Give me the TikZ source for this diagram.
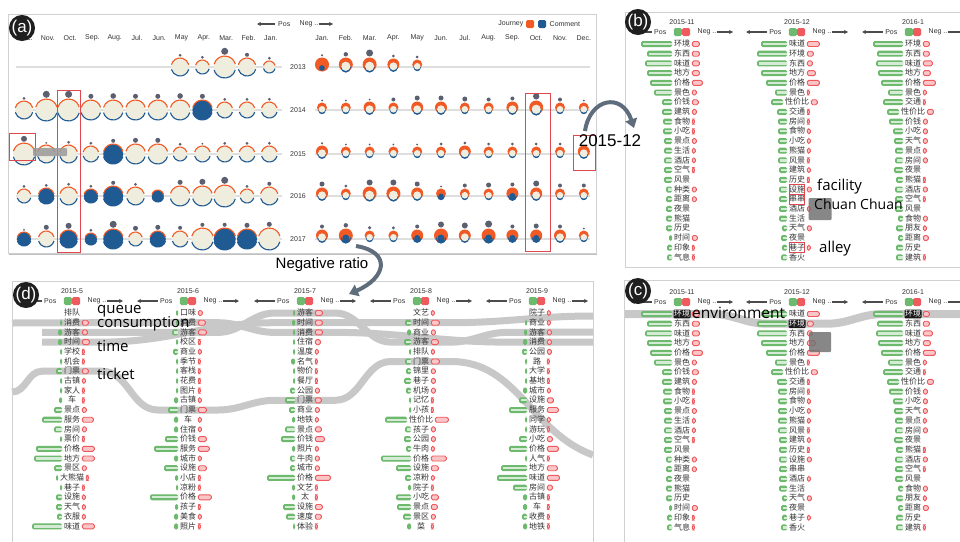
\documentclass[tikz,border=0pt]{standalone}
\usepackage{fontspec}
\setmainfont{Liberation Sans}
\newfontfamily\cjk{Noto Sans CJK SC}
\newfontfamily\annotfont{Open Sans}
\usetikzlibrary{arrows.meta,positioning,calc,backgrounds}

\definecolor{jorange}{HTML}{F15A24}
\definecolor{cblue}{HTML}{1F5A93}
\definecolor{cream}{HTML}{EEEDDE}
\definecolor{dotgrey}{HTML}{5B6070}
\definecolor{posgreen}{HTML}{6DB96D}
\definecolor{negred}{HTML}{EE5A5E}
\definecolor{bandgrey}{HTML}{C8C8C8}
\definecolor{framegrey}{HTML}{D0D0D0}
\definecolor{hlred}{HTML}{E0474F}
\definecolor{arrowgrey}{HTML}{5E6C7C}

% word lists: word/pos length/neg length
\def\bwA{环境/31/7, 东西/25/7, 味道/27/7, 地方/25/7, 价格/22/10, 景色/18/4, 价钱/10/6, 建筑/10/4,
  食物/9/2, 小吃/9/2, 景点/8/4, 生活/8/3, 酒店/8/3, 空气/8/2, 风景/8/0, 种类/6/4, 距离/6/4,
  夜景/6/0, 熊猫/6/0, 历史/6/0, 时间/3/5, 印象/5/2, 气息/5/2}
\def\bwB{味道/26/12, 环境/30/6, 东西/30/5, 地方/26/8, 价格/21/12, 景色/12/2, 性价比/12/6, 交通/10/2,
  房间/9/2, 食物/9/3, 小吃/9/3, 熊猫/9/3, 风景/9/2, 建筑/8/3, 历史/8/2, 设施/8/4, 串串/8/0,
  酒店/8/3, 生活/8/0, 天气/5/4, 夜景/6/0, 巷子/5/3, 香火/6/0}
\def\bwC{环境/30/6, 东西/26/6, 味道/27/9, 地方/25/7, 价格/22/12, 景色/15/3, 交通/20/2, 性价比/12/6,
  价钱/14/4, 小吃/10/4, 天气/9/4, 景点/8/3, 房间/8/4, 夜景/9/0, 熊猫/7/2, 酒店/8/4, 空气/8/2,
  风景/8/0, 食物/5/4, 朋友/7/3, 距离/5/5, 历史/7/0, 建筑/7/2}
\def\dwA{排队/0/0, 消费/2/6, 游客/4/5, 时间/4/7, 学校/2/2, 机会/2/2, 门票/6/6, 古镇/2/3, 家人/2/2,
  车/3/2, 景点/8/4, 服务/20/11, 房间/8/4, 票价/2/2, 价格/26/12, 地方/28/12, 景区/8/4, 大熊猫/2/2,
  巷子/2/2, 设施/6/3, 天气/6/3, 衣服/5/3, 味道/30/12}
\def\dwB{口味/2/4, 消费/2/7, 游客/6/8, 校区/2/2, 商业/5/3, 季节/2/2, 客栈/2/2, 花费/2/2, 图片/2/2,
  古镇/4/3, 门票/10/8, 车/4/3, 住宿/4/3, 价钱/13/8, 服务/24/11, 城市/4/3, 设施/14/8, 小店/3/2,
  凉粉/2/2, 价格/28/13, 孩子/3/2, 美食/4/3, 照片/4/2}
\def\dwC{游客/2/7, 时间/3/7, 消费/2/7, 住宿/2/5, 温度/2/3, 名气/4/2, 物价/2/2, 餐厅/2/2, 公园/5/4,
  门票/10/6, 商业/6/4, 地铁/3/3, 景点/10/6, 价钱/14/9, 照片/3/3, 牛肉/5/4, 城市/5/4, 价格/28/15,
  文艺/3/2, 太/3/2, 设施/12/7, 速度/9/6, 体验/2/2}
\def\dwD{文艺/0/3, 时间/6/8, 商业/4/4, 游客/7/7, 排队/2/3, 门票/6/8, 锦里/5/4, 巷子/7/4, 机场/5/4,
  记忆/2/2, 小孩/2/2, 性价比/22/13, 孩子/6/4, 公园/7/4, 牛肉/5/3, 价格/30/15, 设施/15/7, 凉粉/6/3,
  院子/3/2, 小吃/15/7, 景点/14/6, 景区/8/4, 菜/4/2}
\def\dwE{院子/0/3, 商业/2/3, 游客/3/4, 消费/4/4, 公园/5/4, 路/2/2, 大学/2/2, 基地/2/2, 城市/4/3,
  设施/8/6, 服务/18/11, 同学/2/3, 游玩/2/2, 小吃/8/5, 价格/18/11, 人气/2/2, 地方/26/10, 味道/30/12,
  房间/14/5, 古镇/4/2, 车/4/2, 收费/5/2, 地铁/4/2}

% month glyph, left half: x, y, radius, type (n/b), dot radius
\newcommand{\lglyph}[5]{%
  \if#4b\fill[cblue] (#1,#2) circle (#3);\else\fill[cream] (#1,#2) circle (#3);\fi
  \draw[jorange, line width=1.1pt] (#1,#2) ++(195:#3) arc[start angle=195, end angle=345, radius=#3];
  \draw[cblue, line width=1.1pt] (#1,#2) ++(15:#3) arc[start angle=15, end angle=165, radius=#3];
  \fill[dotgrey] (#1,#2-#3-#5-1.2) circle (#5);
}
% month glyph, right half: x, y, radius, type (o/m/f), dot radius
\newcommand{\rglyph}[5]{%
  \fill[jorange] (#1,#2-1.5) circle (#3);
  \if#4f\fill[cblue] (#1,#2+2) circle (0.4*#3);\else
  \fill[cblue] (#1,#2+1.6) circle (0.72*#3);
  \if#4m\fill[jorange] (#1,#2-1) circle (0.7*#3);\fill[cblue] (#1,#2+1) circle (0.5*#3);
  \else\fill[cream] (#1,#2+0.3) circle (0.66*#3);\fi\fi
  \fill[dotgrey] (#1,#2-#3-#5-2.5) circle (#5);
}
% sentiment bars beside a word node
\newcommand{\sentbars}[3]{%
  \ifdim#2pt>0pt
    \fill[posgreen, rounded corners=1.5pt] ([xshift=-1.2pt]#1.west) ++(0,-3) rectangle ++(-#2,6);
    \ifdim#2pt>4pt
      \fill[posin] ([xshift=-1.2pt]#1.west) ++(0,-1.1) rectangle ++(-#2+1.6,2.2);
    \fi
  \fi
  \ifdim#3pt>0pt
    \draw[negbar] ([xshift=1.6pt]#1.east) ++(0,-2.5) rectangle ++(#3,5);
  \fi
}
% one month column of keywords
\newcommand{\wordcolumn}[5]{%
  \node[hdr] (#1-dt) at (#2,#3-22) {#4};
  \node[sqg] (#1-sg) at (#2-4.2,#3-12) {};
  \node[sqr] (#1-sr) at (#2+4.2,#3-12) {};
  \node[hdr, anchor=east] (#1-pos) at (#2-15,#3-12) {Pos};
  \node[hdr, anchor=west] (#1-neg) at (#2+15,#3-12) {Neg ..};
  \coordinate (#1-pa) at (#2-51,#3-12);
  \coordinate (#1-na) at (#2+51,#3-12);
  \draw[hdrarrow] ([xshift=-2pt]#1-pos.west) -- (#1-pa);
  \draw[hdrarrow] (#1-neg.east) -- (#1-na);
  \edef\curlist{#5}%
  \foreach \w/\g/\r [count=\i] in \curlist {
    \node[word] (#1-\i) at (#2,#3+9.7*\i-9.7) {\w};
    \sentbars{#1-\i}{\g}{\r}
  }
}

\begin{document}
\begin{tikzpicture}[x=1pt, y=-1pt,
    >=Stealth,
    every node/.style={font=\fontsize{7}{8}\selectfont},
    panel/.style={draw=framegrey, line width=0.8pt},
    plabel/.style={circle, fill=black!88, text=white, minimum size=26pt, inner sep=0pt, font=\fontsize{17}{17}\selectfont},
    month/.style={text=black!80},
    yearlbl/.style={text=black!80},
    rowline/.style={draw=black!13, line width=1.5pt},
    word/.style={font=\cjk\fontsize{8}{8}\selectfont, inner sep=0.5pt, minimum width=17pt, text height=6.4pt, text depth=1.2pt, text=black!80},
    hlword/.style={word, fill=black!90, text=white, minimum width=0pt, rounded corners=1pt},
    hdr/.style={inner sep=0.5pt, text=black!80},
    hdrarrow/.style={->, >={Stealth[length=4pt,width=4pt]}, line width=1.1pt, draw=black!70},
    sqg/.style={fill=posgreen, rounded corners=1.5pt, minimum size=8pt, inner sep=0pt},
    sqr/.style={fill=negred, rounded corners=1.5pt, minimum size=8pt, inner sep=0pt},
    posin/.style={fill=white!72!posgreen},
    negbar/.style={draw=negred, fill=negred!35, line width=0.9pt, rounded corners=1.5pt},
    band/.style={draw=bandgrey, line width=8pt},
    hlbox/.style={draw=hlred, line width=0.9pt},
    annot/.style={font=\annotfont\fontsize{15}{15}\selectfont, inner sep=0pt, anchor=west},
    bigarrow/.style={draw=arrowgrey, line width=4pt, -{Triangle[length=9pt,width=12pt]}},
    tooltip/.style={fill=black!55, opacity=0.85, rounded corners=1pt, inner sep=0pt},
]
  \begin{scope}[on background layer]
    \fill[white] (0,0) rectangle (960,541);
  \end{scope}
  \useasboundingbox (0,0) rectangle (960,541);

  % (a) calendar of months
  \draw[panel] (8,14) rectangle (596,253);
  \draw[black!25, line width=1.5pt] (9,254.5) -- (597,254.5);
  \node[hdr, anchor=east] (aPos) at (291,24) {Pos};
  \node[hdr, anchor=west] (aNeg) at (299,24) {Neg ..};
  \coordinate (aPosA) at (257,24);
  \coordinate (aNegA) at (333,24);
  \draw[hdrarrow] ([xshift=-3pt]aPos.west) -- (aPosA);
  \draw[hdrarrow] (aNeg.east) -- (aNegA);
  \node[hdr, anchor=east] (lgJtxt) at (524,24) {Journey};
  \node[sqg, fill=jorange] (lgJ) at (530,24) {};
  \node[sqg, fill=cblue] (lgC) at (542,24) {};
  \node[hdr, anchor=west] (lgCtxt) at (549,24) {Comment};
  \foreach \m [count=\i from 0] in {Dec.,Nov.,Oct.,Sep.,Aug.,Jul.,Jun.,May,Apr.,Mar.,Feb.,Jan.}
    \node[month] (ml\i) at (25.5+22.3*\i,38) {\m};
  \foreach \m [count=\i from 0] in {Jan.,Feb.,Mar.,Apr.,May,Jun.,Jul.,Aug.,Sep.,Oct.,Nov.,Dec.}
    \node[month] (mr\i) at (322+23.8*\i,38) {\m};
  \foreach \yr/\ry in {2013/67,2014/110,2015/154,2016/196,2017/239} {
    \draw[rowline] (16,\ry) -- (282,\ry);
    \draw[rowline] (315,\ry) -- (590,\ry);
    \node[yearlbl] (yr\yr) at (298,\ry) {\yr};
  }
  \foreach \ry/\lst in {
      67/{7/9/n/1.5, 8/7/n/1.5, 9/11/n/3.5, 10/9/n/2, 11/6/n/1.5},
      110/{0/9/n/1.5, 1/11/n/3.5, 2/11/n/3.5, 3/10/n/2.5, 4/10/n/2.8, 5/10/n/2.5, 6/10/n/2.5, 7/10/n/2.8, 8/10/b/2.5, 9/8/n/1.5, 10/8/n/1.5, 11/8/n/1.5},
      154/{0/11/n/3, 1/9/n/1, 2/9/n/1.5, 3/8/n/1.5, 4/10/b/2, 5/10/n/2.5, 6/10/n/2.5, 7/7/n/1.5, 8/8/n/1, 9/8/n/1.5, 10/8/n/1.5, 11/8/n/1.5},
      196/{0/7/n/1.5, 1/8/b/1.5, 2/9/n/1.5, 3/7/b/1.5, 4/10/b/2, 5/9/n/1.5, 6/6/b/0, 7/10/n/2.5, 8/10/n/3, 9/11/n/3.5, 10/7/n/1.5, 11/9/n/2},
      239/{0/7/b/1, 1/8/n/2.5, 2/9/b/3, 3/6/b/1.5, 4/10/b/3.5, 5/7/n/2.5, 6/8/b/2.5, 7/8/n/2, 8/11/n/2, 9/11/b/2, 10/10/b/2.5, 11/11/n/2.5}} {
    \foreach \c/\r/\t/\d in \lst {\lglyph{24+22.3*\c}{\ry}{\r}{\t}{\d}}
  }
  \foreach \ry/\lst in {
      66/{0/7/f/1.2, 1/7/o/2.2, 2/7/o/3.5, 3/6/o/1.5, 4/5/o/1.5},
      109/{0/5/o/1, 1/5/o/1, 2/6/o/1, 3/5/o/2, 4/6/o/2.5, 5/6/o/2.5, 6/5/o/2.5, 7/5/o/2, 8/6/o/2, 9/7/o/3.2, 10/5/o/2, 11/5/o/1},
      153/{0/6/o/1.2, 1/5/o/1, 2/5/o/1, 3/5/o/1, 4/5/o/1, 5/5/o/1.5, 6/6/o/1.5, 7/5/o/1.5, 8/5/o/1.5, 9/5/o/1.5, 10/5/o/1.5, 11/6/o/0},
      195/{0/6/o/2.5, 1/5/o/1.5, 2/7/o/3, 3/7/o/3, 4/6/o/2.5, 5/5/m/1, 6/5/o/2, 7/5/o/2.5, 8/6/m/2, 9/6/o/3, 10/5/o/2, 11/5/o/2},
      237/{0/6/o/2, 1/7/m/2.2, 2/5/o/1.8, 3/5/o/1.6, 4/6/m/2, 5/7/m/3, 6/6/o/3, 7/7/m/3.5, 8/6/m/2, 9/6/m/2.5, 10/6/o/2, 11/5/o/1}} {
    \foreach \c/\r/\t/\d in \lst {\rglyph{322+23.8*\c}{\ry}{\r}{\t}{\d}}
  }
  \draw[hlbox] (57,90) rectangle (80,252);
  \draw[hlbox] (9,133) rectangle (35,160);
  \draw[hlbox] (525,93) rectangle (550,251);
  \draw[hlbox] (573,135) rectangle (595,170);
  \node[tooltip, fill=black!40, minimum width=34pt, minimum height=8pt] (tipA) at (50,152) {};

  % (b) and (c) keyword columns
  \draw[panel] (625,12) rectangle (965,267);
  \draw[panel] (624,280) rectangle (965,545);
  \foreach \pn/\py in {b/44, c/314} {
    \wordcolumn{\pn1}{682}{\py}{2015-11}{\bwA}
    \wordcolumn{\pn2}{797}{\py}{2015-12}{\bwB}
    \wordcolumn{\pn3}{913}{\py}{2016-1}{\bwC}
  }
  \draw[hlbox] ($(b2-16.north west)+(1,-0.5)$) rectangle ($(b2-16.south east)+(-1,0.5)$);
  \draw[hlbox] ($(b2-17.north west)+(1,-0.5)$) rectangle ($(b2-17.south east)+(-1,0.5)$);
  \draw[hlbox] ($(b2-22.north west)+(1,-0.5)$) rectangle ($(b2-22.south east)+(-1,0.5)$);
  \node[tooltip, minimum width=23pt, minimum height=22pt] (tipB) at (820,209) {};
  \node[annot] (facility) at (817,187) {facility};
  \node[annot, font=\annotfont\fontsize{14}{14}\selectfont] (chuan) at (814,204) {Chuan Chuan};
  \node[annot] (alley) at (819,249) {alley};
  \node[hlword] (c1-1h) at (c1-1) {环境};
  \node[hlword] (c2-2h) at (c2-2) {环境};
  \node[hlword] (c3-1h) at (c3-1) {环境};
  \node[tooltip, minimum width=22pt, minimum height=20pt] (tipC) at (820,342) {};
  \node[annot, font=\annotfont\fontsize{15.5}{16}\selectfont] (envir) at (692,313) {environment};

  % (d) keyword columns
  \draw[panel] (12,281) rectangle (593,548);
  \wordcolumn{d1}{72}{313}{2015-5}{\dwA}
  \wordcolumn{d2}{188}{313}{2015-6}{\dwB}
  \wordcolumn{d3}{305}{313}{2015-7}{\dwC}
  \wordcolumn{d4}{421}{313}{2015-8}{\dwD}
  \wordcolumn{d5}{537}{313}{2015-9}{\dwE}
  \node[annot] (queue) at (97,311) {queue};
  \node[annot] (consum) at (97,324) {consumption};
  \node[annot] (time) at (97,346) {time};
  \node[annot] (ticket) at (97,374) {ticket};

  % flows of one keyword through the months
  \coordinate (cL) at (624,314);
  \coordinate (cR) at (962,314);
  \coordinate (dL1) at (12,323);
  \coordinate (dR1) at (593,342);
  \coordinate (dR2) at (593,332);
  \coordinate (dR3) at (593,316);
  \coordinate (dL2) at (12,392);
  \coordinate (dR4) at (593,455);
  \begin{scope}[on background layer]
    \draw[band] (cL) -- ([xshift=30]c1-1.center) to[out=0,in=180] ([xshift=-30]c2-2.center)
      -- ([xshift=30]c2-2.center) to[out=0,in=180] ([xshift=-30]c3-1.center) -- (cR);
    \draw[band, line width=7pt] (dL1) -- ([xshift=30]d1-2.center) -- ([xshift=30]d2-2.center)
      to[out=0,in=180] ([xshift=-30]d3-3.center) -- ([xshift=30]d3-3.center)
      to[out=0,in=180] ([xshift=-30]d5-4.center) -- (dR1);
    \draw[band, line width=7pt] ([xshift=-30]d1-3.center) -- ([xshift=30]d2-3.center)
      to[out=0,in=180] ([xshift=-30]d3-1.center) -- ([xshift=30]d3-1.center)
      to[out=0,in=180] ([xshift=-30]d4-4.center) -- ([xshift=30]d4-4.center)
      to[out=0,in=180] ([xshift=-30]d5-3.center) -- (dR2);
    \draw[band, line width=7pt] ([xshift=-30]d1-4.center) -- ([xshift=30]d1-4.center)
      to[out=0,in=180] ([xshift=-30]d3-2.center) -- ([xshift=30]d4-2.center)
      to[out=0,in=180] (dR3);
    \draw[band, line width=7pt] (dL2) to[out=0,in=180] ([xshift=-30]d1-7.center) -- ([xshift=30]d1-7.center)
      to[out=0,in=180] ([xshift=-30]d2-11.center) -- ([xshift=30]d2-11.center)
      to[out=0,in=180] ([xshift=-30]d3-10.center) -- ([xshift=30]d3-10.center)
      to[out=0,in=180] ([xshift=-30]d4-6.center) -- ([xshift=30]d4-6.center)
      to[out=0,in=160] (dR4);
  \end{scope}

  % annotations between panels
  \node[font=\fontsize{17}{17}\selectfont] (dec15) at (610,141) {2015-12};
  \coordinate (arA) at (585,131);
  \coordinate (arB) at (634,128);
  \draw[bigarrow] (arA) .. controls (590,98) and (622,92) .. (arB);
  \node[font=\fontsize{15}{15}\selectfont] (negratio) at (322,265) {Negative ratio};
  \coordinate (arC) at (356,246);
  \coordinate (arD) at (349,294);
  \draw[bigarrow] (arC) .. controls (392,252) and (386,278) .. (arD);

  % panel labels
  \node[plabel] (la) at (22,28) {(a)};
  \node[plabel] (lb) at (638,22) {(b)};
  \node[plabel] (lc) at (638,291) {(c)};
  \node[plabel] (ld) at (26,295) {(d)};
\end{tikzpicture}
\end{document}
